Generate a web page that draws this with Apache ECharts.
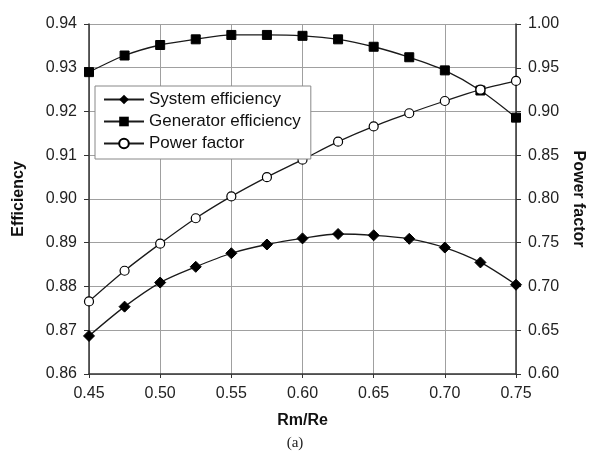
<!DOCTYPE html>
<html><head><meta charset="utf-8">
<script src="https://cdn.jsdelivr.net/npm/echarts@6/dist/echarts.min.js"></script>
<style>html,body{margin:0;padding:0;background:#fff}#c{width:590px;height:457px}</style>
</head><body><div id="c"></div>
<script>
const xValues = [0.45,0.475,0.50,0.525,0.55,0.575,0.60,0.625,0.65,0.675,0.70,0.725,0.75];
const systemEfficiency = [0.8687,0.8754,0.8809,0.8845,0.8876,0.8896,0.8910,0.8920,0.8917,0.8909,0.8889,0.8855,0.8804];
const generatorEfficiency = [0.9290,0.9328,0.9352,0.9365,0.9375,0.9375,0.9373,0.9365,0.9348,0.9324,0.9294,0.9248,0.9186];
const powerFactor = [0.683,0.718,0.749,0.778,0.803,0.825,0.845,0.8655,0.883,0.898,0.912,0.925,0.935];
const seriesNames = ['System efficiency','Generator efficiency','Power factor'];

const font = 'Liberation Sans, Arial, sans-serif';
const pair = (ys) => xValues.map((x,i)=>[x,ys[i]]);
const chart = echarts.init(document.getElementById('c'));
const lineStyle = {color:'#1a1a1a', width:1.3};
const tickText = {fontFamily:font,fontSize:16,color:'#222',formatter:v=>v.toFixed(2)};
chart.setOption({
  animation:false,
  backgroundColor:'#fff',
  grid:{left:89,right:74,top:24,bottom:83,containLabel:false,outerBoundsMode:'none'},
  legend:{
    orient:'vertical', left:95, top:86, itemWidth:40, itemHeight:12, itemGap:5,
    backgroundColor:'#fff', borderColor:'#888', borderWidth:1, padding:[5,10,7,8],
    textStyle:{fontFamily:font,fontSize:17,color:'#111'},
    data:seriesNames
  },
  xAxis:{
    type:'value', min:0.45, max:0.75, interval:0.05,
    name:'Rm/Re', nameLocation:'middle', nameGap:39,
    nameTextStyle:{fontFamily:font,fontSize:16,fontWeight:'bold',color:'#111'},
    axisLine:{lineStyle:{color:'#333',width:1.5}},
    axisTick:{show:true,length:4,lineStyle:{color:'#333'}},
    axisLabel:Object.assign({margin:12},tickText),
    splitLine:{show:true,lineStyle:{color:'#a0a0a0',width:1}}
  },
  yAxis:[{
    type:'value', min:0.86, max:0.94, interval:0.01, position:'left',
    name:'Efficiency', nameLocation:'middle', nameGap:62, nameRotate:90,
    nameTextStyle:{fontFamily:font,fontSize:16,fontWeight:'bold',color:'#111'},
    axisLine:{show:true,lineStyle:{color:'#333',width:1.5}},
    axisTick:{show:true,length:5,lineStyle:{color:'#333'}},
    axisLabel:Object.assign({margin:12},tickText),
    splitLine:{show:true,lineStyle:{color:'#a0a0a0',width:1}}
  },{
    type:'value', min:0.60, max:1.00, interval:0.05, position:'right',
    name:'Power factor', nameLocation:'middle', nameGap:46, nameRotate:-90,
    nameTextStyle:{fontFamily:font,fontSize:16,fontWeight:'bold',color:'#111'},
    axisLine:{show:true,lineStyle:{color:'#333',width:1.5}},
    axisTick:{show:true,length:5,lineStyle:{color:'#333'}},
    axisLabel:Object.assign({margin:12},tickText),
    splitLine:{show:false}
  }],
  graphic:[{type:'text',left:'center',top:436,style:{text:'(a)',font:'15px "Liberation Serif", "Times New Roman", serif',fill:'#222'}}],
  series:[{
    name:seriesNames[0], type:'line', yAxisIndex:0, smooth:0.3,
    symbol:'diamond', symbolSize:11, data:pair(systemEfficiency),
    lineStyle:lineStyle, itemStyle:{color:'#000',borderColor:'#000'}
  },{
    name:seriesNames[1], type:'line', yAxisIndex:0, smooth:0.3,
    symbol:'rect', symbolSize:9, data:pair(generatorEfficiency),
    lineStyle:lineStyle, itemStyle:{color:'#000',borderColor:'#000'}
  },{
    name:seriesNames[2], type:'line', yAxisIndex:1, smooth:0.3,
    symbol:'circle', symbolSize:9, showSymbol:true, data:pair(powerFactor),
    lineStyle:lineStyle, itemStyle:{color:'#fff',borderColor:'#000',borderWidth:1.2}
  }]
});
</script></body></html>
